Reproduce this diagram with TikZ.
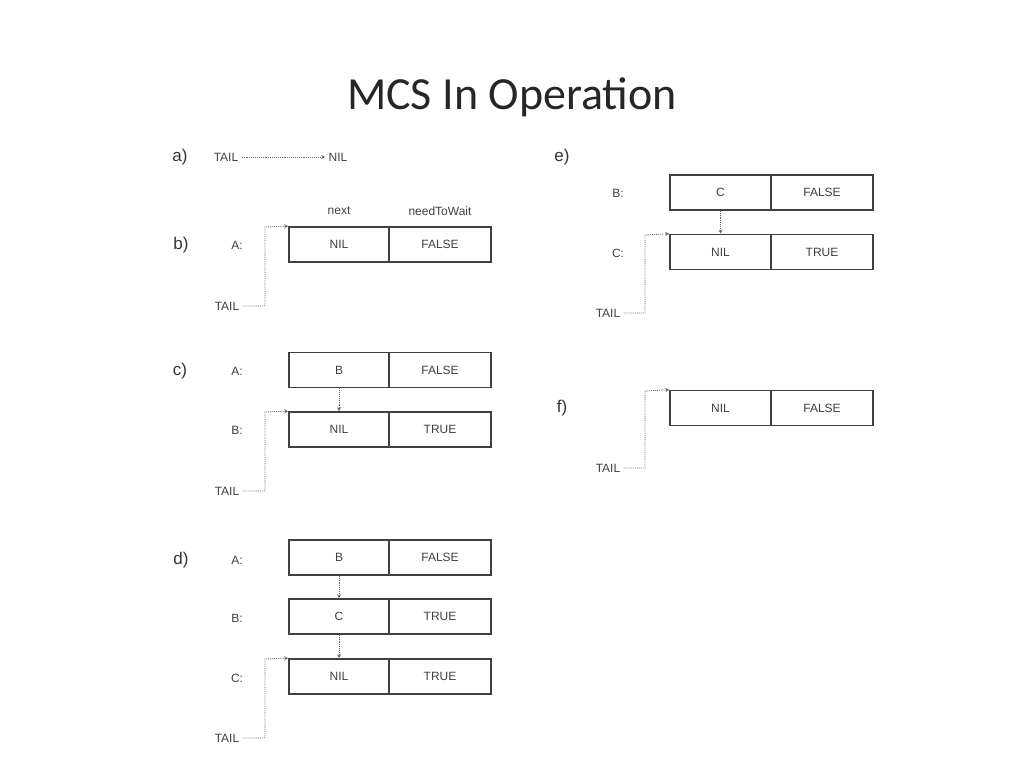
\documentclass[tikz,border=0pt]{standalone}
\usepackage{fontspec}
\setmainfont{Carlito}
\newfontfamily\lab{Liberation Sans}
\usetikzlibrary{arrows.meta}
\begin{document}
\begin{tikzpicture}[x=1pt,y=-1pt,
  cell/.style={draw=black!75,line width=1.6pt,minimum height=35pt,font=\lab\fontsize{12}{12}\selectfont,text=black!75,inner sep=0pt},
  lt/.style={font=\lab\fontsize{12}{12}\selectfont,text=black!75},
  pl/.style={font=\lab\fontsize{17}{17}\selectfont,text=black!80},
  ptr/.style={draw=black!60,densely dotted,line width=0.9pt,-{Stealth[length=4pt,width=4pt]}}]
\useasboundingbox (0,0) rectangle (1024,768);
\node[font=\fontsize{46}{46}\selectfont,text=black!85] (title) at (512,97) {MCS In Operation};
% a
\node[pl] (pa) at (180,157) {a)};
\node[lt] (ta) at (226,157) {TAIL};
\node[lt] (na) at (338,157) {NIL};
\draw[ptr] (ta.east) -- (na.west);
% b
\node[lt] (hn) at (339,211) {next};
\node[lt] (hw) at (440,211) {needToWait};
\node[pl] (pb) at (181,245) {b)};
\node[lt] (lbA) at (237,245) {A:};
\node[cell,minimum width=100pt] (bA1) at (339,244.5) {NIL};
\node[cell,minimum width=102pt] (bA2) at (440,244.5) {FALSE};
\node[lt] (tb) at (227,306) {TAIL};
\coordinate (bt) at (bA1.north west);
\draw[ptr] (tb.east) -| (265,227) -- (bt);
% c
\node[pl] (pc) at (180,371) {c)};
\node[lt] (lcA) at (237,371) {A:};
\node[lt] (lcB) at (237,430) {B:};
\node[cell,minimum width=100pt] (cA1) at (339,370) {B};
\node[cell,minimum width=102pt] (cA2) at (440,370) {FALSE};
\node[cell,minimum width=100pt] (cB1) at (339,429.5) {NIL};
\node[cell,minimum width=102pt] (cB2) at (440,429.5) {TRUE};
\draw[ptr] (cA1.south) -- (cB1.north);
\node[lt] (tc) at (227,491) {TAIL};
\draw[ptr] (tc.east) -| (265,412) -- (cB1.north west);
% d
\node[pl] (pd) at (181,560) {d)};
\node[lt] (ldA) at (237,560) {A:};
\node[lt] (ldB) at (237,618) {B:};
\node[lt] (ldC) at (237,678) {C:};
\node[cell,minimum width=100pt] (dA1) at (339,557.5) {B};
\node[cell,minimum width=102pt] (dA2) at (440,557.5) {FALSE};
\node[cell,minimum width=100pt] (dB1) at (339,616.5) {C};
\node[cell,minimum width=102pt] (dB2) at (440,616.5) {TRUE};
\node[cell,minimum width=100pt] (dC1) at (339,676.5) {NIL};
\node[cell,minimum width=102pt] (dC2) at (440,676.5) {TRUE};
\draw[ptr] (dA1.south) -- (dB1.north);
\draw[ptr] (dB1.south) -- (dC1.north);
\node[lt] (td) at (227,738) {TAIL};
\draw[ptr] (td.east) -| (265,659) -- (dC1.north west);
% e
\node[pl] (pe) at (562,157) {e)};
\node[lt] (leB) at (618,193) {B:};
\node[lt] (leC) at (618,253) {C:};
\node[cell,minimum width=101pt] (eB1) at (720.5,192.5) {C};
\node[cell,minimum width=102pt] (eB2) at (822,192.5) {FALSE};
\node[cell,minimum width=101pt] (eC1) at (720.5,252) {NIL};
\node[cell,minimum width=102pt] (eC2) at (822,252) {TRUE};
\draw[ptr] (eB1.south) -- (eC1.north);
\node[lt] (te) at (608,313) {TAIL};
\draw[ptr] (te.east) -| (645,235) -- (eC1.north west);
% f
\node[pl] (pf) at (562,408) {f)};
\node[cell,minimum width=101pt] (fA1) at (720.5,408) {NIL};
\node[cell,minimum width=102pt] (fA2) at (822,408) {FALSE};
\node[lt] (tf) at (608,468) {TAIL};
\draw[ptr] (tf.east) -| (645,391) -- (fA1.north west);
\end{tikzpicture}
\end{document}
